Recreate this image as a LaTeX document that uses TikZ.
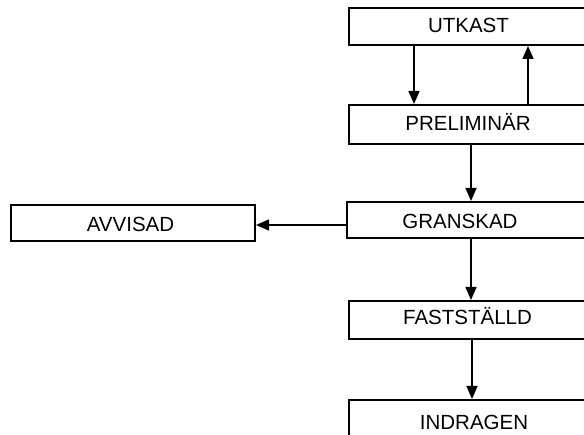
\documentclass[tikz,border=0pt]{standalone}
\usepackage{fontspec}
\setmainfont{Liberation Sans}
\usetikzlibrary{arrows.meta}
\begin{document}
\begin{tikzpicture}[x=1pt,y=-1pt,
  box/.style={draw,line width=2pt,inner sep=0pt,anchor=north west},
  lbl/.style={inner sep=0pt,text height=14.7pt,text depth=0pt,font=\fontsize{20.5}{24}\selectfont},
  arr/.style={line width=1.5pt,-{Triangle[width=11pt,length=13pt]}}]
\clip (0,0) rectangle (584,435);
% state boxes (the right column runs off the edge)
\node[box,minimum width=260pt,minimum height=37pt] (utkast) at (348,7) {};
\node[box,minimum width=260pt,minimum height=39pt] (prelim) at (348,104) {};
\node[box,minimum width=260pt,minimum height=36pt] (gransk) at (346,201) {};
\node[box,minimum width=260pt,minimum height=38pt] (fast) at (348,300) {};
\node[box,minimum width=260pt,minimum height=60pt] (indrag) at (348,399) {};
\node[box,minimum width=244pt,minimum height=36pt] (avvis) at (10,204) {};
% labels
\node[lbl] (utkast-t) at (468.5,25.3) {UTKAST};
\node[lbl] (prelim-t) at (468,123.5) {PRELIMINÄR};
\node[lbl] (gransk-t) at (460,221.5) {GRANSKAD};
\node[lbl] (fast-t) at (467.5,317.5) {FASTSTÄLLD};
\node[lbl] (indrag-t) at (474,421.7) {INDRAGEN};
\node[lbl] (avvis-t) at (130.5,224) {AVVISAD};
% transitions
\draw[arr] ([xshift=66pt]utkast.south west) -- ([xshift=66pt]prelim.north west);
\draw[arr] ([xshift=180pt]prelim.north west) -- ([xshift=180pt]utkast.south west);
\draw[arr] ([xshift=123pt]prelim.south west) -- ([xshift=125pt]gransk.north west);
\draw[arr] ([xshift=125pt]gransk.south west) -- ([xshift=123pt]fast.north west);
\draw[arr] ([xshift=124pt]fast.south west) -- ([xshift=124pt]indrag.north west);
\draw[arr] ([yshift=-5pt]gransk.west) -- ([yshift=-5pt]gransk.west -| avvis.east);
\end{tikzpicture}
\end{document}
